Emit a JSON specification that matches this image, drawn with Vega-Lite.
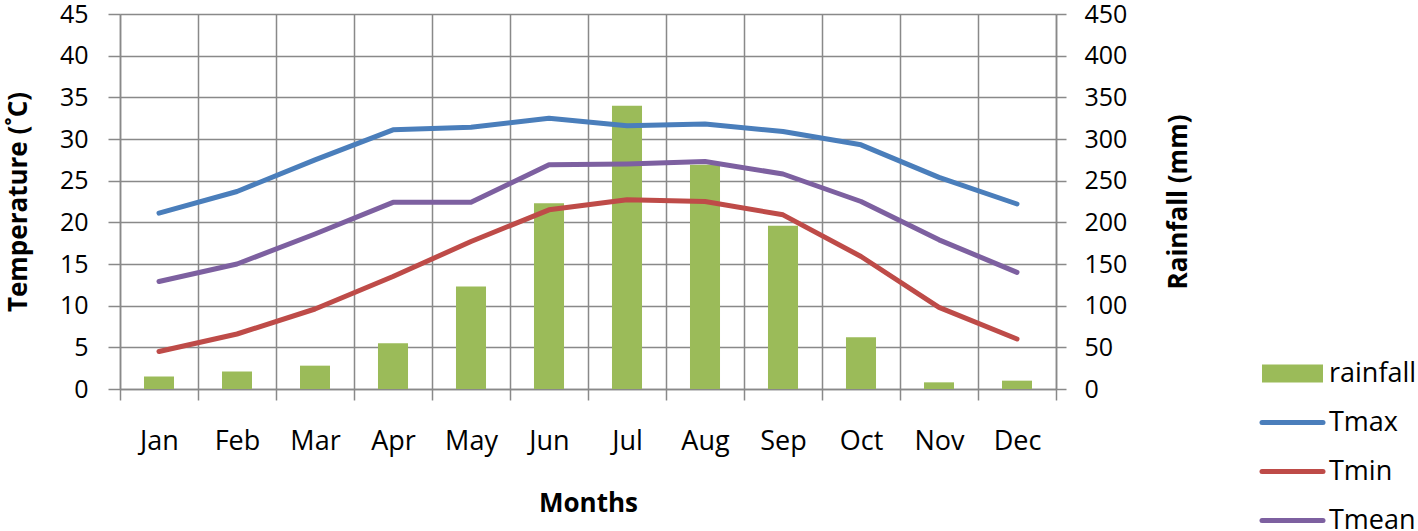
{
  "$schema": "https://vega.github.io/schema/vega-lite/v6.json",
  "width": 936,
  "height": 375,
  "autosize": {"type": "none"},
  "padding": {"left": 120, "top": 14, "right": 362, "bottom": 142},
  "background": "white",
  "config": {
    "view": {"stroke": null},
    "font": "Open Sans",
    "axis": {
      "labelColor": "#000000",
      "titleColor": "#000000",
      "domainColor": "#898989",
      "tickColor": "#898989",
      "gridColor": "#898989",
      "domainWidth": 1.5,
      "tickWidth": 1.5,
      "gridWidth": 1.5,
      "labelFont": "Open Sans",
      "titleFont": "Open Sans"
    }
  },
  "data": {
    "values": [
      {"month": "Jan", "rainfall": 15, "Tmax": 21.1, "Tmin": 4.5, "Tmean": 12.9},
      {"month": "Feb", "rainfall": 21, "Tmax": 23.7, "Tmin": 6.6, "Tmean": 15.0},
      {"month": "Mar", "rainfall": 28, "Tmax": 27.5, "Tmin": 9.6, "Tmean": 18.6},
      {"month": "Apr", "rainfall": 55, "Tmax": 31.1, "Tmin": 13.5, "Tmean": 22.4},
      {"month": "May", "rainfall": 123, "Tmax": 31.4, "Tmin": 17.7, "Tmean": 22.4},
      {"month": "Jun", "rainfall": 223, "Tmax": 32.5, "Tmin": 21.5, "Tmean": 26.9},
      {"month": "Jul", "rainfall": 340, "Tmax": 31.6, "Tmin": 22.7, "Tmean": 27.0},
      {"month": "Aug", "rainfall": 269, "Tmax": 31.8, "Tmin": 22.5, "Tmean": 27.3},
      {"month": "Sep", "rainfall": 196, "Tmax": 30.9, "Tmin": 20.9, "Tmean": 25.8},
      {"month": "Oct", "rainfall": 62, "Tmax": 29.3, "Tmin": 15.9, "Tmean": 22.5},
      {"month": "Nov", "rainfall": 8, "Tmax": 25.4, "Tmin": 9.8, "Tmean": 17.9},
      {"month": "Dec", "rainfall": 10, "Tmax": 22.2, "Tmin": 6.0, "Tmean": 14.0}
    ]
  },
  "encoding": {
    "x": {
      "field": "month",
      "type": "ordinal",
      "sort": ["Jan","Feb","Mar","Apr","May","Jun","Jul","Aug","Sep","Oct","Nov","Dec"],
      "scale": {"paddingInner": 0, "paddingOuter": 0},
      "axis": {
        "title": "Months",
        "titleFontSize": 26,
        "titleFontWeight": "bold",
        "titleBaseline": "alphabetic",
        "titleY": 122,
        "labelAngle": 0,
        "labelFontSize": 27,
        "labelBaseline": "alphabetic",
        "labelPadding": 49,
        "tickSize": 11,
        "tickBand": "extent",
        "grid": true
      }
    }
  },
  "layer": [
    {
      "mark": {"type": "bar", "width": {"band": 0.385}, "color": "#9BBB59"},
      "encoding": {
        "y": {
          "field": "rainfall",
          "type": "quantitative",
          "scale": {"domain": [0, 450]},
          "axis": {
            "orient": "right",
            "title": "Rainfall (mm)",
            "titleFontSize": 26,
            "titleFontWeight": "bold",
            "titleAngle": 270,
            "titleAlign": "center",
            "titleBaseline": "alphabetic",
            "titleX": 130.5,
            "titleY": 187.5,
            "values": [0, 50, 100, 150, 200, 250, 300, 350, 400, 450],
            "labelFontSize": 25,
            "labelPadding": 18,
            "tickSize": 10,
            "grid": false
          }
        },
        "color": {"datum": "rainfall", "type": "nominal"}
      }
    },
    {
      "transform": [{"fold": ["Tmax", "Tmin", "Tmean"], "as": ["series", "temp"]}],
      "mark": {"type": "line", "strokeWidth": 5, "strokeJoin": "round", "strokeCap": "round"},
      "encoding": {
        "y": {
          "field": "temp",
          "type": "quantitative",
          "scale": {"domain": [0, 45]},
          "axis": {
            "orient": "left",
            "title": "Temperature (˚C)",
            "titleFontSize": 26,
            "titleFontWeight": "bold",
            "titleAngle": 270,
            "titleAlign": "center",
            "titleBaseline": "alphabetic",
            "titleX": -93.5,
            "titleY": 187.5,
            "values": [0, 5, 10, 15, 20, 25, 30, 35, 40, 45],
            "labelFontSize": 25,
            "labelPadding": 20,
            "tickSize": 12,
            "grid": true
          }
        },
        "color": {
          "field": "series",
          "type": "nominal",
          "scale": {
            "domain": ["rainfall", "Tmax", "Tmin", "Tmean"],
            "range": ["#9BBB59", "#4A7EBB", "#BE4B48", "#7D60A0"]
          },
          "legend": {
            "title": null,
            "orient": "none",
            "legendX": 1159,
            "legendY": 346,
            "padding": 0,
            "symbolSize": 3721,
            "symbolStrokeWidth": 5,
            "labelFontSize": 27,
            "labelColor": "#000000",
            "labelOffset": 23,
            "rowPadding": 21,
            "encode": {
              "symbols": {
                "update": {
                  "shape": {"signal": "datum.value === 'rainfall' ? 'M-1,-0.295H1V0.295H-1Z' : 'M-1,0H1'"},
                  "fill": {"signal": "datum.value === 'rainfall' ? '#9BBB59' : 'transparent'"},
                  "stroke": {"signal": "datum.value === 'Tmax' ? '#4A7EBB' : datum.value === 'Tmin' ? '#BE4B48' : datum.value === 'Tmean' ? '#7D60A0' : 'transparent'"},
                  "strokeWidth": {"signal": "datum.value === 'rainfall' ? 0 : 5"},
                  "strokeCap": {"value": "round"},
                  "opacity": {"value": 1}
                }
              }
            }
          }
        }
      }
    }
  ],
  "resolve": {"scale": {"y": "independent"}}
}
